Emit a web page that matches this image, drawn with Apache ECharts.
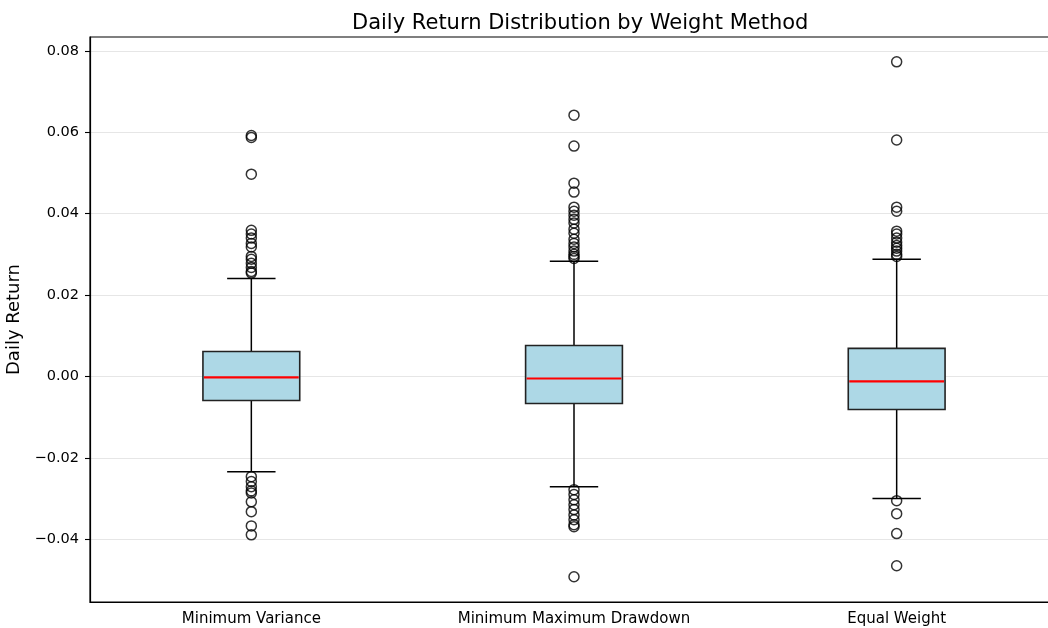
<!DOCTYPE html>
<html>
<head>
<meta charset="utf-8">
<script src="https://cdn.jsdelivr.net/npm/echarts@6/dist/echarts.min.js"></script>
<style>
html,body{margin:0;padding:0;background:#fff;overflow:hidden;}
#chart{width:1048px;height:628px;}
</style>
</head>
<body>
<div id="chart"></div>
<script>
// ---- data ----
const categories = ['Minimum Variance', 'Minimum Maximum Drawdown', 'Equal Weight'];
// [lower whisker, Q1, median, Q3, upper whisker]
const boxStats = [
  [-0.0234, -0.0059, -0.0002, 0.00615, 0.0241],
  [-0.0271, -0.00665, -0.0005, 0.00763, 0.0283],
  [-0.0300, -0.0081, -0.0012, 0.0069, 0.0288]
];
const outliersMV = [0.0592, 0.0587, 0.0497, 0.0359, 0.0350, 0.0340, 0.0327, 0.0318, 0.0295, 0.0288, 0.0278, 0.0268, 0.0258, 0.0254,
  -0.0246, -0.0258, -0.0271, -0.0281, -0.0286, -0.0308, -0.0332, -0.0367, -0.0389];
const outliersMMD = [0.0642, 0.0566, 0.0475, 0.0453, 0.0416, 0.0406, 0.0396, 0.0386, 0.0377, 0.0362, 0.0352, 0.0337, 0.0327, 0.0318, 0.0308, 0.0300, 0.0295, 0.0290,
  -0.0278, -0.0290, -0.0303, -0.0315, -0.0327, -0.0340, -0.0352, -0.0364, -0.0369, -0.0492];
const outliersEW = [0.0773, 0.0581, 0.0416, 0.0406, 0.0357, 0.0350, 0.0340, 0.0330, 0.0322, 0.0315, 0.0308, 0.0300, 0.0295,
  -0.0305, -0.0337, -0.0386, -0.0465];
const yMin = -0.0554, yMax = 0.0834;

// ---- build ----
const boxData = boxStats.map((s, i) => [i].concat(s));
const outlierData = [];
[outliersMV, outliersMMD, outliersEW].forEach((arr, i) => arr.forEach(v => outlierData.push([i, v])));

const fmt = v => (v < 0 ? '\u2212' : '') + Math.abs(v).toFixed(2);

function renderBox(params, api) {
  const idx = api.value(0);
  const lo = api.coord([idx, api.value(1)]);
  const q1 = api.coord([idx, api.value(2)]);
  const med = api.coord([idx, api.value(3)]);
  const q3 = api.coord([idx, api.value(4)]);
  const hi = api.coord([idx, api.value(5)]);
  const band = api.size([1, 0])[0];
  const bw = band * 0.3, cw = band * 0.15;
  const x = lo[0];
  const ls = { stroke: '#000', lineWidth: 1.5 };
  return {
    type: 'group',
    children: [
      { type: 'line', shape: { x1: x, y1: q3[1], x2: x, y2: hi[1] }, style: ls },
      { type: 'line', shape: { x1: x, y1: q1[1], x2: x, y2: lo[1] }, style: ls },
      { type: 'line', shape: { x1: x - cw / 2, y1: hi[1], x2: x + cw / 2, y2: hi[1] }, style: ls },
      { type: 'line', shape: { x1: x - cw / 2, y1: lo[1], x2: x + cw / 2, y2: lo[1] }, style: ls },
      { type: 'rect', shape: { x: x - bw / 2, y: q3[1], width: bw, height: q1[1] - q3[1] },
        style: { fill: '#add8e6', stroke: '#222', lineWidth: 1.6 } },
      { type: 'line', shape: { x1: x - bw / 2 + 1, y1: med[1], x2: x + bw / 2 - 1, y2: med[1] },
        style: { stroke: '#ff0000', lineWidth: 2.2 } }
    ]
  };
}

const chart = echarts.init(document.getElementById('chart'), null, { renderer: 'canvas' });
chart.setOption({
  animation: false,
  backgroundColor: '#fff',
  title: {
    text: 'Daily Return Distribution by Weight Method',
    left: 347, top: 8,
    textStyle: { fontFamily: 'DejaVu Sans', fontSize: 21, fontWeight: 'normal', color: '#000' }
  },
  grid: { left: 90, width: 968, top: 37, height: 565, outerBoundsMode: 'none', containLabel: false,
    show: true, borderColor: '#000', borderWidth: 1.2, backgroundColor: 'transparent' },
  xAxis: {
    type: 'category', data: categories, boundaryGap: true,
    axisLine: { onZero: false, lineStyle: { color: '#000', width: 1.2 } },
    axisTick: { alignWithLabel: true, length: 5, lineStyle: { color: '#000', width: 1.1 } },
    axisLabel: { margin: 10, color: '#000', fontFamily: 'DejaVu Sans', fontSize: 15 },
    splitLine: { show: false }
  },
  yAxis: {
    type: 'value', min: yMin, max: yMax, splitNumber: 7,
    name: 'Daily Return', nameLocation: 'middle', nameGap: 58,
    nameTextStyle: { fontFamily: 'DejaVu Sans', fontSize: 18, color: '#000' },
    axisLine: { show: true, lineStyle: { color: '#000', width: 1.2 } },
    axisTick: { show: true, length: 5, lineStyle: { color: '#000', width: 1.1 } },
    axisLabel: { margin: 11, color: '#000', fontFamily: 'DejaVu Sans', fontSize: 14.5, formatter: fmt, showMinLabel: false, showMaxLabel: false },
    splitLine: { show: true, showMinLine: false, showMaxLine: false, lineStyle: { color: '#e6e6e6', width: 1.2 } }
  },
  series: [
    { type: 'custom', renderItem: renderBox, data: boxData, encode: { x: 0, y: [1, 2, 3, 4, 5] }, z: 2 },
    { type: 'scatter', data: outlierData, symbol: 'circle', symbolSize: 10,
      itemStyle: { color: 'rgba(255,255,255,0)', borderColor: '#000', borderWidth: 1.5 }, z: 3 }
  ]
});
</script>
</body>
</html>
